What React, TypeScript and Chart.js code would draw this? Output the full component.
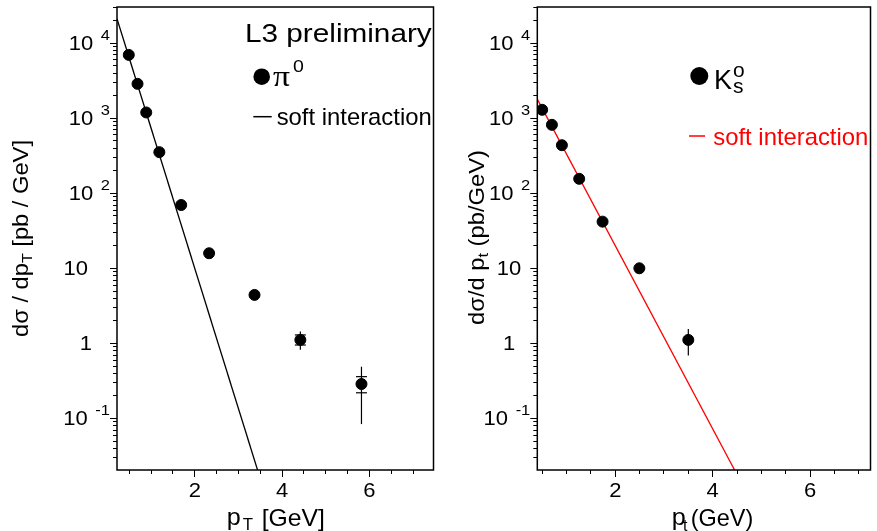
import React, { useEffect, useRef } from "react";
import { Chart, registerables } from "chart.js";

Chart.register(...registerables);

const SANS = '"Liberation Sans", Arial, Helvetica, sans-serif';
const SERIF = '"Liberation Serif", "Times New Roman", serif';

// ---------- data: pi0 panel ----------
const PI0_PT = [0.5, 0.7, 0.9, 1.2, 1.7, 2.34, 3.38, 4.43, 5.83];
const PI0_XS = [6900, 2840, 1180, 349, 69, 15.7, 4.37, 1.1, 0.284];
const PI0_ERR_LO = [null, null, null, null, null, null, null, 0.81, 0.083];
const PI0_ERR_HI = [null, null, null, null, null, null, null, 1.42, 0.483];
const PI0_CAP_LO = [null, null, null, null, null, null, null, 0.94, 0.217];
const PI0_CAP_HI = [null, null, null, null, null, null, null, 1.28, 0.356];
const PI0_SOFT_PT = [0.23, 3.45];
const PI0_SOFT_XS = [20900, 0.0203];
const PI0_X_RANGE = [0.23, 7.48];

// ---------- data: K0s panel ----------
const K0_PT = [0.51, 0.71, 0.915, 1.27, 1.75, 2.505, 3.51];
const K0_XS = [1280, 807, 432, 154, 41.4, 9.9, 1.1];
const K0_ERR_LO = [null, null, null, null, null, null, 0.68];
const K0_ERR_HI = [null, null, null, null, null, null, 1.54];
const K0_CAP_LO = [null, null, null, null, null, null, null];
const K0_CAP_HI = [null, null, null, null, null, null, null];
const K0_SOFT_PT = [0.41, 4.46];
const K0_SOFT_XS = [1775, 0.0203];
const K0_X_RANGE = [0.41, 7.25];

// ---------- shared axes ----------
const Y_RANGE = [0.0203, 30000];
const Y_TICK_EXPONENTS = [-1, 0, 1, 2, 3, 4];
const X_TICK_LABELS = [2, 4, 6];

const STRETCH = 1.1;
const TICK_FONT = 20;
const EXP_FONT = 15;

type Seg = { t: string; size: number; dy?: number; dx?: number; family?: string };

function drawRich(
  ctx: CanvasRenderingContext2D,
  segs: Seg[],
  x: number,
  y: number,
  o: { color?: string; rot?: number; fit?: number; sx?: number; align?: "left" | "right" | "center" } = {}
) {
  ctx.save();
  ctx.fillStyle = o.color || "#000";
  ctx.textBaseline = "alphabetic";
  ctx.textAlign = "left";
  const widths = segs.map((s) => {
    ctx.font = `${s.size}px ${s.family || SANS}`;
    return ctx.measureText(s.t).width;
  });
  const total = segs.reduce((a, s, i) => a + (s.dx || 0) + widths[i], 0);
  const sx = o.fit ? o.fit / total : o.sx || 1;
  ctx.translate(x, y);
  if (o.rot) ctx.rotate(o.rot);
  ctx.scale(sx, 1);
  let cx = o.align === "right" ? -total : o.align === "center" ? -total / 2 : 0;
  segs.forEach((s, i) => {
    cx += s.dx || 0;
    ctx.font = `${s.size}px ${s.family || SANS}`;
    ctx.fillText(s.t, cx, s.dy || 0);
    cx += widths[i];
  });
  ctx.restore();
}

function seg(ctx: CanvasRenderingContext2D, x1: number, y1: number, x2: number, y2: number) {
  ctx.beginPath();
  ctx.moveTo(x1, y1);
  ctx.lineTo(x2, y2);
  ctx.stroke();
}

type Panel = {
  id: string;
  pt: number[];
  xs: number[];
  errLo: (number | null)[];
  errHi: (number | null)[];
  capLo: (number | null)[];
  capHi: (number | null)[];
  softPt: number[];
  softXs: number[];
  softColor: string;
  xRange: number[];
  padding: { left: number; right: number; top: number; bottom: number };
  plain10Off: number;
  plain1Off: number;
  decorate: (ctx: CanvasRenderingContext2D) => void;
};

function makePlugin(p: Panel) {
  return {
    id: "panel_" + p.id,
    beforeDatasetsDraw(chart: any) {
      const { ctx, scales } = chart;
      const xs = scales.x;
      const ys = scales.y;
      ctx.save();
      ctx.strokeStyle = "#000";
      ctx.lineWidth = 1.2;
      p.pt.forEach((xv, i) => {
        const px = xs.getPixelForValue(xv);
        const lo = p.errLo[i];
        const hi = p.errHi[i];
        if (lo != null && hi != null) {
          seg(ctx, px, ys.getPixelForValue(lo), px, ys.getPixelForValue(hi));
        }
        [p.capLo[i], p.capHi[i]].forEach((c) => {
          if (c != null) {
            const py = ys.getPixelForValue(c);
            seg(ctx, px - 5.5, py, px + 5.5, py);
          }
        });
      });
      ctx.restore();
    },
    afterDraw(chart: any) {
      const { ctx, chartArea: a, scales } = chart;
      const xs = scales.x;
      const ys = scales.y;
      ctx.save();
      // frame
      ctx.strokeStyle = "#000";
      ctx.lineWidth = 1.5;
      ctx.strokeRect(a.left, a.top, a.right - a.left, a.bottom - a.top);
      // y ticks
      ctx.lineWidth = 1;
      for (let e = -3; e <= 5; e++) {
        for (let m = 1; m <= 9; m++) {
          const v = m * Math.pow(10, e);
          if (v < ys.min || v > ys.max) continue;
          const py = Math.round(ys.getPixelForValue(v)) + 0.5;
          const len = m === 1 ? 7 : 4;
          seg(ctx, a.left - len, py, a.left, py);
        }
      }
      // x ticks
      for (let v = 0.5; v <= xs.max + 1e-9; v += 0.5) {
        if (v < xs.min) continue;
        const px = Math.round(xs.getPixelForValue(v)) + 0.5;
        const len = Math.abs(v % 2) < 1e-9 ? 7 : 4;
        seg(ctx, px, a.bottom, px, a.bottom + len);
      }
      // x labels
      X_TICK_LABELS.forEach((v) => {
        const px = xs.getPixelForValue(v);
        drawRich(ctx, [{ t: String(v), size: TICK_FONT }], px + 0.5, 497, { align: "center", sx: STRETCH });
      });
      // y labels
      Y_TICK_EXPONENTS.forEach((e) => {
        const py = ys.getPixelForValue(Math.pow(10, e));
        if (e === 0) {
          drawRich(ctx, [{ t: "1", size: TICK_FONT }], a.left - p.plain1Off, py + 7, { align: "right", sx: STRETCH });
        } else if (e === 1) {
          drawRich(ctx, [{ t: "10", size: TICK_FONT }], a.left - p.plain10Off, py + 7, { align: "right", sx: STRETCH });
        } else {
          drawRich(
            ctx,
            [
              { t: "10", size: TICK_FONT, dy: 7 },
              { t: String(e), size: EXP_FONT, dx: 7, dy: -3 },
            ],
            a.left - 7,
            py,
            { align: "right", sx: STRETCH }
          );
        }
      });
      p.decorate(ctx);
      ctx.restore();
    },
  };
}

function buildConfig(p: Panel): any {
  return {
    type: "scatter",
    data: {
      datasets: [
        {
          label: "data",
          data: p.pt.map((x, i) => ({ x, y: p.xs[i] })),
          backgroundColor: "#000",
          borderColor: "#000",
          pointRadius: 5.5,
          pointHoverRadius: 5.5,
          showLine: false,
        },
        {
          label: "soft interaction",
          data: p.softPt.map((x, i) => ({ x, y: p.softXs[i] })),
          borderColor: p.softColor,
          backgroundColor: p.softColor,
          borderWidth: 1.3,
          pointRadius: 0,
          showLine: true,
          tension: 0,
        },
      ],
    },
    options: {
      responsive: false,
      animation: false,
      events: [],
      layout: { padding: p.padding },
      plugins: { legend: { display: false }, tooltip: { enabled: false }, title: { display: false } },
      scales: {
        x: { type: "linear", min: p.xRange[0], max: p.xRange[1], display: false },
        y: { type: "logarithmic", min: Y_RANGE[0], max: Y_RANGE[1], display: false },
      },
    },
    plugins: [makePlugin(p)],
  };
}

const leftPanel: Panel = {
  id: "pi0",
  pt: PI0_PT,
  xs: PI0_XS,
  errLo: PI0_ERR_LO,
  errHi: PI0_ERR_HI,
  capLo: PI0_CAP_LO,
  capHi: PI0_CAP_HI,
  softPt: PI0_SOFT_PT,
  softXs: PI0_SOFT_XS,
  softColor: "#000",
  xRange: PI0_X_RANGE,
  padding: { left: 117, right: 4, top: 7, bottom: 61 },
  plain10Off: 29,
  plain1Off: 25,
  decorate(ctx) {
    drawRich(ctx, [{ t: "L3 preliminary", size: 26 }], 245, 41.7, { fit: 186.7 });
    ctx.fillStyle = "#000";
    ctx.beginPath();
    ctx.arc(261.7, 76.7, 8.3, 0, Math.PI * 2);
    ctx.fill();
    drawRich(ctx, [{ t: "π", size: 30, family: SERIF }], 273, 85.5, { fit: 17 });
    drawRich(ctx, [{ t: "0", size: 17 }], 293, 71.7, { sx: 1.15 });
    ctx.strokeStyle = "#000";
    ctx.lineWidth = 1.5;
    seg(ctx, 253.3, 116.7, 271.7, 116.7);
    drawRich(ctx, [{ t: "soft interaction", size: 24 }], 276.7, 125, { fit: 155 });
    // axis titles
    drawRich(ctx, [{ t: "p", size: 24 }], 226.7, 525, { sx: 1.05 });
    drawRich(ctx, [{ t: "T", size: 16 }], 242.7, 529.5, { sx: 1.05 });
    drawRich(ctx, [{ t: "[GeV]", size: 24 }], 261.7, 525.5, { fit: 63.3 });
    drawRich(
      ctx,
      [
        { t: "dσ / dp", size: 22 },
        { t: "T", size: 15, dy: 4 },
        { t: " [pb / GeV]", size: 22 },
      ],
      28.3,
      337,
      { rot: -Math.PI / 2, fit: 197 }
    );
  },
};

const rightPanel: Panel = {
  id: "k0",
  pt: K0_PT,
  xs: K0_XS,
  errLo: K0_ERR_LO,
  errHi: K0_ERR_HI,
  capLo: K0_CAP_LO,
  capHi: K0_CAP_HI,
  softPt: K0_SOFT_PT,
  softXs: K0_SOFT_XS,
  softColor: "#ff0000",
  xRange: K0_X_RANGE,
  padding: { left: 97.3, right: 1, top: 7, bottom: 61 },
  plain10Off: 16,
  plain1Off: 22,
  decorate(ctx) {
    ctx.fillStyle = "#000";
    ctx.beginPath();
    ctx.arc(259.3, 76, 9, 0, Math.PI * 2);
    ctx.fill();
    drawRich(ctx, [{ t: "K", size: 27 }], 274, 89);
    drawRich(ctx, [{ t: "o", size: 21 }], 293, 76.7);
    drawRich(ctx, [{ t: "s", size: 21 }], 293, 92.7);
    ctx.strokeStyle = "#ff0000";
    ctx.lineWidth = 1.5;
    seg(ctx, 249, 136, 265, 136);
    drawRich(ctx, [{ t: "soft interaction", size: 24 }], 273.3, 145, { fit: 155, color: "#ff0000" });
    // axis titles
    drawRich(ctx, [{ t: "p", size: 24 }], 231.7, 525, { sx: 1.05 });
    drawRich(ctx, [{ t: "t", size: 16 }], 243, 531);
    drawRich(ctx, [{ t: "(GeV)", size: 24 }], 250.7, 525.5, { fit: 62.6 });
    drawRich(
      ctx,
      [
        { t: "dσ/d p", size: 22 },
        { t: "t", size: 15, dy: 4 },
        { t: " (pb/GeV)", size: 22 },
      ],
      44,
      325,
      { rot: -Math.PI / 2, fit: 175 }
    );
  },
};

function PanelCanvas({ panel, width, left }: { panel: Panel; width: number; left: number }) {
  const ref = useRef<HTMLCanvasElement | null>(null);
  useEffect(() => {
    if (!ref.current) return;
    const chart = new Chart(ref.current, buildConfig(panel));
    return () => chart.destroy();
  }, [panel]);
  return (
    <canvas
      ref={ref}
      width={width}
      height={531}
      style={{ position: "absolute", left, top: 0, width, height: 531, display: "block" }}
    />
  );
}

export default function App() {
  return (
    <div style={{ position: "fixed", left: 0, top: 0, width: 877, height: 531, background: "#fff" }}>
      <PanelCanvas panel={leftPanel} width={440} left={0} />
      <PanelCanvas panel={rightPanel} width={437} left={440} />
    </div>
  );
}
